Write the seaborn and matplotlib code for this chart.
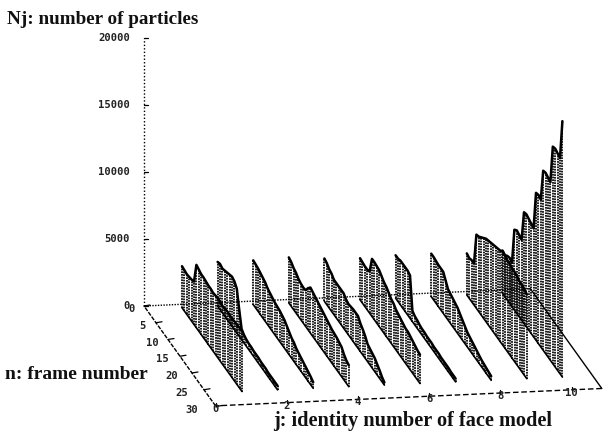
import matplotlib
matplotlib.use('Agg')
import matplotlib.pyplot as plt
import seaborn as sns
import numpy as np
import pandas as pd

# frames shown in every row
frames = list(range(1, 27))

# number of particles, one list per face model
face1 = [3100, 3050, 3000, 3050, 3100, 3200, 4700, 4600, 4500, 4500, 4450, 4400, 4400, 4350,
         4400, 4450, 4400, 4350, 4400, 4450, 4400, 4400, 4450, 4450, 4500, 4500]
face2 = [3300, 3400, 3300, 3400, 3500, 3600, 3700, 3600, 3300, 2000, 800, 600, 500, 450,
         450, 400, 400, 400, 350, 350, 350, 300, 300, 300, 300, 300]
face3 = [3300, 3250, 3200, 3100, 3000, 2900, 2700, 2600, 2500, 2400, 2350, 2300, 2200, 2100,
         1900, 1700, 1500, 1400, 1200, 1100, 1000, 900, 800, 700, 600, 450]
face4 = [3400, 3300, 3100, 3000, 2800, 2700, 2650, 2700, 3100, 3400, 3300, 3200, 3100, 3000,
         2900, 2800, 2700, 2600, 2500, 2450, 2400, 2300, 2200, 1900, 1700, 1600]
face5 = [3200, 3100, 2900, 2800, 2600, 2600, 2600, 2600, 2600, 2400, 2300, 2350, 2400, 2400,
         2400, 2100, 1900, 1650, 1300, 1200, 1100, 1000, 800, 600, 350, 200]
face6 = [3100, 3050, 3000, 3000, 3100, 4300, 4300, 4250, 4200, 4000, 3800, 3700, 3500, 3300,
         3200, 3000, 2900, 2800, 2700, 2600, 2600, 2500, 2400, 2300, 2200, 2150]
face7 = [3200, 3200, 3300, 3300, 3300, 3300, 3200, 800, 650, 600, 500, 450, 450, 400,
         400, 400, 350, 350, 350, 300, 300, 300, 300, 250, 250, 250]
face8 = [3200, 3200, 3150, 3100, 3100, 3100, 2700, 2300, 2200, 2100, 2000, 1900, 1700, 1500,
         1300, 1100, 1000, 900, 800, 700, 600, 500, 450, 400, 350, 300]
face9 = [3100, 3000, 3100, 3100, 5500, 5600, 5800, 6000, 6200, 6300, 6400, 6500, 6600, 6700,
         6800, 7000, 6900, 6800, 6800, 6700, 6700, 6600, 6500, 6500, 6400, 6300]
face10 = [3200, 3100, 3300, 3400, 3300, 6000, 6200, 6100, 6000, 8300, 8400, 8300, 8200, 8100,
          11000, 11100, 11000, 13400, 13500, 13400, 13300, 16200, 16300, 16200, 16100, 19100]
faces = [face1, face2, face3, face4, face5, face6, face7, face8, face9, face10]

face_ticks = [0, 2, 4, 6, 8, 10]
frame_ticks = [0, 5, 10, 15, 20, 25, 30]
count_ticks = [0, 5000, 10000, 15000, 20000]


def project(j, n, count=0):
    # oblique view of the box, gives picture pixels
    px = 144 + 35.6 * np.asarray(j, dtype=float) + 2.4 * np.asarray(n, dtype=float)
    py = 306 - 1.6 * np.asarray(j, dtype=float) + 3.35 * np.asarray(n, dtype=float) - 0.0134 * np.asarray(count, dtype=float)
    return px, py


rows = []
for j, counts in enumerate(faces, start=1):
    for n, c in zip(frames, counts):
        rows.append({'j': j, 'n': n, 'count': c})
df = pd.DataFrame(rows)
df['px'], df['base'] = project(df['j'], df['n'])
df['top'] = project(df['j'], df['n'], df['count'])[1]

bars = pd.concat([df.assign(py=df['base'], end=0), df.assign(py=df['top'], end=1)])
bars['bar'] = bars['j'] * 100 + bars['n']

sns.set_style('white')
fig = plt.figure(figsize=(6.05, 4.36), dpi=100)
ax = fig.add_axes([0, 0, 1, 1])

# impulses
sns.lineplot(data=bars, x='px', y='py', units='bar', estimator=None, sort=False, color='black',
             lw=1.25, linestyle=(0, (1.0, 0.55)), legend=False, ax=ax)
# dark edges along the tops and the floor of each row
sns.lineplot(data=df, x='px', y='top', units='j', estimator=None, sort=False, color='black',
             lw=1.8, legend=False, ax=ax)
sns.lineplot(data=df, x='px', y='base', units='j', estimator=None, sort=False, color='black',
             lw=1.2, legend=False, ax=ax)

# box
j_end, n_end = 10.85, 29.8
corners = [(0, 0), (j_end, 0), (j_end, n_end), (0, n_end), (0, 0)]
cx, cy = project([c[0] for c in corners], [c[1] for c in corners])
ax.plot(cx[:2], cy[:2], color='black', lw=1.0, ls=(0, (1, 1)))
ax.plot(cx[1:3], cy[1:3], color='black', lw=1.0)
ax.plot(cx[2:4], cy[2:4], color='black', lw=1.0, ls=(0, (4, 2)))
ax.plot(cx[3:5], cy[3:5], color='black', lw=1.0, ls=(0, (3, 1)))
zx, zy = project([0, 0], [0, 0], [0, 20000])
ax.plot(zx, zy, color='black', lw=1.0, ls=(0, (1, 1.5)))

# ticks and tick labels
tick_font = dict(family='DejaVu Sans Mono', fontweight='bold', fontsize=7.6, color='#222222')
for z in count_ticks:
    x0, y0 = project(0, 0, z)
    ax.plot([x0, x0 + 4], [y0, y0], color='black', lw=0.9)
    ax.text(x0 - 14, y0, str(z), ha='right', va='center', **tick_font)
for n in frame_ticks:
    x0, y0 = project(0, n)
    ax.plot([x0, x0 + 6], [y0, y0 - 1], color='black', lw=0.9)
    ax.text(x0 - 12 - 0.4 * n, y0 + 3, str(n), ha='center', va='center', **tick_font)
for j in face_ticks:
    x0, y0 = project(j, n_end)
    ax.plot([x0, x0], [y0, y0 - 3], color='black', lw=0.9)
    ax.text(x0, y0 + 3, str(j), ha='center', va='center', **tick_font)

label_font = dict(family='Liberation Serif', fontweight='bold', color='#111111')
ax.text(7, 19, 'Nj: number of particles', ha='left', va='center', fontsize=13.8, **label_font)
ax.text(5, 374, 'n: frame number', ha='left', va='center', fontsize=14, **label_font)
ax.text(273, 421, 'j: identity number of face model', ha='left', va='center', fontsize=14.6, **label_font)

ax.set_xlim(0, 605)
ax.set_ylim(436, 0)
ax.axis('off')
fig.savefig('out.png', dpi=100)
